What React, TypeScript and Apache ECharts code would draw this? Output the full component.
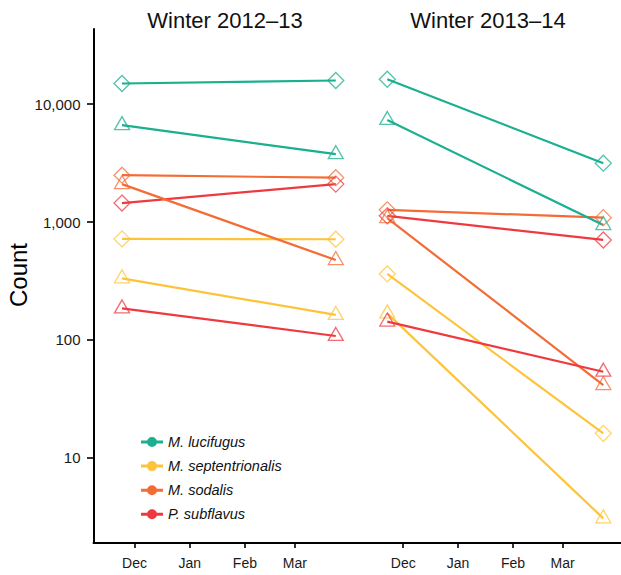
import React, { useEffect, useRef } from "react";
import * as echarts from "echarts";

// ---- data ----
const species = ["M. lucifugus", "M. septentrionalis", "M. sodalis", "P. subflavus"];
const speciesColors = ["#1aaf8f", "#fdc43a", "#f36c36", "#ee3a3f"];

const panelTitles = ["Winter 2012\u201313", "Winter 2013\u201314"];

// survey dates (early winter, late winter)
const surveyDates1213 = ["2012-11-24", "2013-03-24"];
const surveyDates1314 = ["2013-11-22", "2014-03-24"];

// counts per species (order as in `species`)
const w1213DiamondEarly = [15000, 720, 2500, 1450];
const w1213DiamondLate = [15900, 715, 2380, 2100];
const w1213TriangleEarly = [6650, 333, 2100, 185];
const w1213TriangleLate = [3770, 163, 476, 108];

const w1314DiamondEarly = [16300, 363, 1270, 1130];
const w1314DiamondLate = [3160, 16.1, 1090, 705];
const w1314TriangleEarly = [7360, 168, 1080, 143];
const w1314TriangleLate = [944, 3.06, 41.4, 53.7];

// axis ticks
const winterStart1213 = "2012-12-01";
const winterStart1314 = "2013-12-01";
const monthTicks1213 = ["2012-12-01", "2013-01-01", "2013-02-01", "2013-03-01"];
const monthTicks1314 = ["2013-12-01", "2014-01-01", "2014-02-01", "2014-03-01"];
const monthLabels = ["Dec", "Jan", "Feb", "Mar"];
const yTicks = [10, 100, 1000, 10000];

const axisRange1213 = ["2012-11-08", "2013-04-08"];
const axisRange1314 = ["2013-11-08", "2014-04-03"];
const yRange = [1.89, 43500];

const FONT = "'Liberation Sans', Arial, Helvetica, sans-serif";
const DAY = 86400000;

function ts(s: string): number {
  const [y, m, d] = s.split("-").map(Number);
  return Date.UTC(y, m - 1, d);
}
// days since Dec 1 of the winter
function dayOf(s: string, start: string): number {
  return (ts(s) - ts(start)) / DAY;
}

const legendIcon = "path://M0,3.5H22V6.5H0Z M11,0A5,5,0,1,1,11,10A5,5,0,1,1,11,0Z";

export default function App() {
  const ref = useRef<HTMLDivElement>(null);

  useEffect(() => {
    if (!ref.current) return;
    const chart = echarts.init(ref.current, undefined, { renderer: "svg" });

    const panels = [
      {
        start: winterStart1213,
        dates: surveyDates1213,
        ticks: monthTicks1213,
        range: axisRange1213,
        groups: [
          { shape: "diamond", early: w1213DiamondEarly, late: w1213DiamondLate },
          { shape: "triangle", early: w1213TriangleEarly, late: w1213TriangleLate },
        ],
      },
      {
        start: winterStart1314,
        dates: surveyDates1314,
        ticks: monthTicks1314,
        range: axisRange1314,
        groups: [
          { shape: "diamond", early: w1314DiamondEarly, late: w1314DiamondLate },
          { shape: "triangle", early: w1314TriangleEarly, late: w1314TriangleLate },
        ],
      },
    ];

    const series: any[] = [];
    panels.forEach((p, pi) => {
      p.groups.forEach((g) => {
        species.forEach((sp, si) => {
          const isTri = g.shape === "triangle";
          series.push({
            type: "line",
            name: sp,
            xAxisIndex: pi,
            yAxisIndex: pi,
            data: [
              [dayOf(p.dates[0], p.start), g.early[si]],
              [dayOf(p.dates[1], p.start), g.late[si]],
            ],
            symbol: g.shape,
            symbolSize: isTri ? [15, 13] : 16,
            symbolOffset: isTri ? [0, -2] : [0, 0],
            showSymbol: true,
            lineStyle: { color: speciesColors[si], width: 2.2 },
            itemStyle: {
              color: "rgba(255,255,255,0)",
              borderColor: speciesColors[si],
              borderWidth: 1.3,
              opacity: 0.75,
            },
            emphasis: { disabled: true },
            z: 2,
          });
        });
      });
    });

    const xAxes = panels.map((p, gi) => {
      const tickDays = p.ticks.map((t) => dayOf(t, p.start));
      return {
        type: "value",
        gridIndex: gi,
        min: dayOf(p.range[0], p.start),
        max: dayOf(p.range[1], p.start),
        axisLine: { show: true, onZero: false, lineStyle: { color: "#000", width: 2 } },
        axisTick: {
          show: true,
          length: 5,
          lineStyle: { color: "#000", width: 1.6 },
          customValues: tickDays,
        },
        axisLabel: {
          show: true,
          customValues: tickDays,
          formatter: (v: number) => {
            const i = tickDays.findIndex((d) => Math.abs(d - v) < 0.01);
            return i >= 0 ? monthLabels[i] : "";
          },
          fontSize: 14,
          color: "#1a1a1a",
          fontFamily: FONT,
          margin: 13,
        },
        splitLine: { show: false },
      };
    });

    chart.setOption({
      animation: false,
      backgroundColor: "#fff",
      textStyle: { fontFamily: FONT },
      grid: [
        { left: 93.5, top: 29, width: 269, height: 514 },
        { left: 362.5, top: 29, width: 258.5, height: 514 },
      ],
      xAxis: xAxes,
      yAxis: [
        {
          type: "log",
          gridIndex: 0,
          min: yRange[0],
          max: yRange[1],
          name: "Count",
          nameLocation: "middle",
          nameGap: 62,
          nameTextStyle: {
            fontSize: 24,
            color: "#000",
            fontFamily: FONT,
            padding: [0, 0, 0, 22],
          },
          axisLine: { show: true, onZero: false, lineStyle: { color: "#000", width: 2 } },
          axisTick: {
            show: true,
            length: 6.5,
            lineStyle: { color: "#000", width: 1.6 },
          },
          axisLabel: {
            formatter: (v: number) => {
              const l = Math.log10(v);
              return Math.abs(l - Math.round(l)) < 1e-6 && yTicks.includes(Math.round(v))
                ? Math.round(v).toLocaleString("en-US")
                : "";
            },
            showMinLabel: false,
            showMaxLabel: false,
            fontSize: 15,
            color: "#1a1a1a",
            fontFamily: FONT,
            margin: 13,
          },
          splitLine: { show: false },
        },
        {
          type: "log",
          gridIndex: 1,
          min: yRange[0],
          max: yRange[1],
          show: false,
          splitLine: { show: false },
        },
      ],
      legend: {
        orient: "vertical",
        left: 141,
        top: 434.5,
        padding: 0,
        itemWidth: 22,
        itemHeight: 10,
        itemGap: 9.1,
        selectedMode: false,
        textStyle: { fontSize: 14.5, fontStyle: "italic", color: "#111", fontFamily: FONT },
        data: species.map((s, i) => ({
          name: s,
          icon: legendIcon,
          itemStyle: { color: speciesColors[i], borderWidth: 0, opacity: 1 },
        })),
      },
      graphic: panelTitles.map((t, i) => ({
        type: "text",
        x: i === 0 ? 225 : 488,
        y: 20,
        style: {
          text: t,
          fontSize: 22,
          fontFamily: FONT,
          fill: "#111",
          align: "center",
          verticalAlign: "middle",
        },
      })),
      series,
    });

    return () => chart.dispose();
  }, []);

  return (
    <div
      ref={ref}
      style={{ position: "fixed", left: 0, top: 0, width: 621, height: 575, background: "#fff" }}
    />
  );
}
